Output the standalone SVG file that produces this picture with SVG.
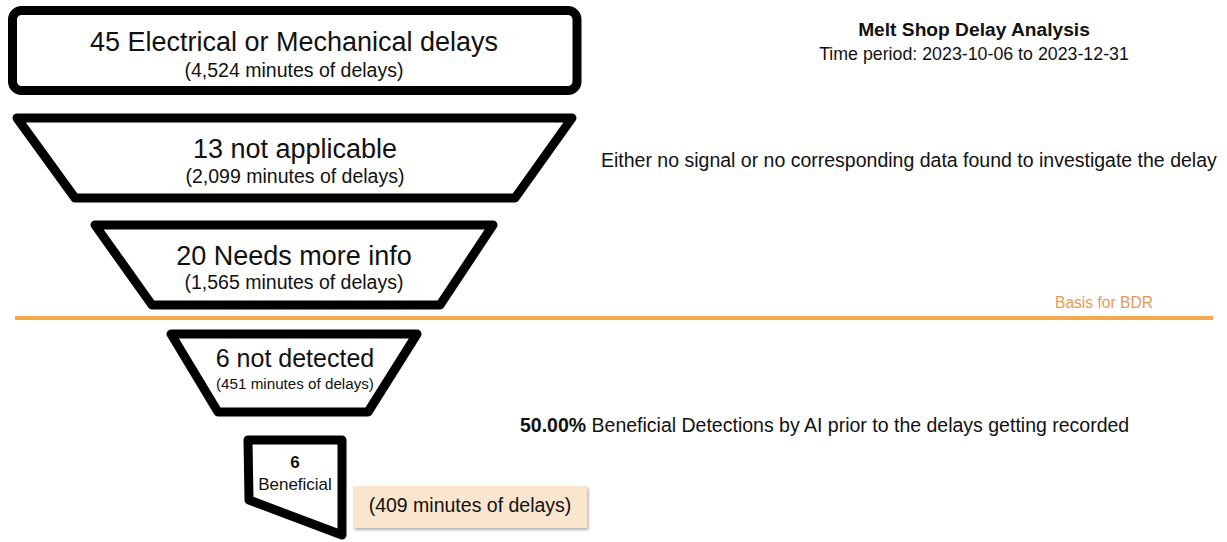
<svg xmlns="http://www.w3.org/2000/svg" width="1227" height="542" viewBox="0 0 1227 542">
  <defs>
    <filter id="shadow" x="-10%" y="-20%" width="125%" height="160%">
      <feDropShadow dx="1.5" dy="2" stdDeviation="1.5" flood-color="#000" flood-opacity="0.3"/>
    </filter>
  </defs>
  <style>
    text { font-family: "Liberation Sans", Arial, sans-serif; fill: #111; }
    .stage { fill: #fff; stroke: #000; stroke-width: 9; stroke-linejoin: round; }
    .big { font-size: 27px; text-anchor: middle; }
    .sub { font-size: 19.5px; text-anchor: middle; }
    .note { font-size: 19.5px; }
    .bold { font-weight: bold; }
  </style>
  <rect width="1227" height="542" fill="#fff"/>

  <g id="title">
    <text x="974" y="36" text-anchor="middle" class="bold" style="font-size:19.2px">Melt Shop Delay Analysis</text>
    <text x="974" y="60" text-anchor="middle" style="font-size:17.8px">Time period: 2023-10-06 to 2023-12-31</text>
  </g>

  <g id="stage-electrical">
    <rect class="stage" x="12.5" y="10.5" width="564.5" height="80" rx="9"/>
    <text class="big" x="294" y="51">45 Electrical or Mechanical delays</text>
    <text class="sub" x="294" y="77">(4,524 minutes of delays)</text>
  </g>

  <g id="stage-not-applicable">
    <polygon class="stage" points="17,118 572,118 515,198 75,198"/>
    <text class="big" x="295" y="158">13 not applicable</text>
    <text class="sub" x="295" y="183">(2,099 minutes of delays)</text>
  </g>
  <text id="note-not-applicable" class="note" x="601" y="167">Either no signal or no corresponding data found to investigate the delay</text>

  <g id="stage-needs-info">
    <polygon class="stage" points="95,225 493,225 440,305 152,305"/>
    <text class="big" x="294" y="265">20 Needs more info</text>
    <text class="sub" x="294" y="289">(1,565 minutes of delays)</text>
  </g>

  <g id="basis-line">
    <line x1="15" y1="318" x2="1213" y2="318" stroke="#f4a94f" stroke-width="4"/>
    <text x="1055" y="308" style="font-size:15.6px;fill:#e8995a">Basis for BDR</text>
  </g>

  <g id="stage-not-detected">
    <polygon class="stage" points="171,334 417,334 368,412 218,412"/>
    <text x="295" y="367" text-anchor="middle" style="font-size:25px">6 not detected</text>
    <text x="295" y="389" text-anchor="middle" style="font-size:15.2px">(451 minutes of delays)</text>
  </g>

  <g id="stage-beneficial">
    <polygon class="stage" points="248,440 342,440 342,535 249,500"/>
    <text x="295" y="468" text-anchor="middle" class="bold" style="font-size:17px">6</text>
    <text x="295" y="490" text-anchor="middle" style="font-size:17px">Beneficial</text>
  </g>

  <g id="beneficial-minutes">
    <rect x="353" y="486" width="234" height="42" fill="#fae5cf" filter="url(#shadow)"/>
    <text x="470" y="512" text-anchor="middle" style="font-size:19.5px">(409 minutes of delays)</text>
  </g>

  <text id="note-beneficial" class="note" x="520" y="432"><tspan class="bold">50.00%</tspan> Beneficial Detections by AI prior to the delays getting recorded</text>
</svg>
